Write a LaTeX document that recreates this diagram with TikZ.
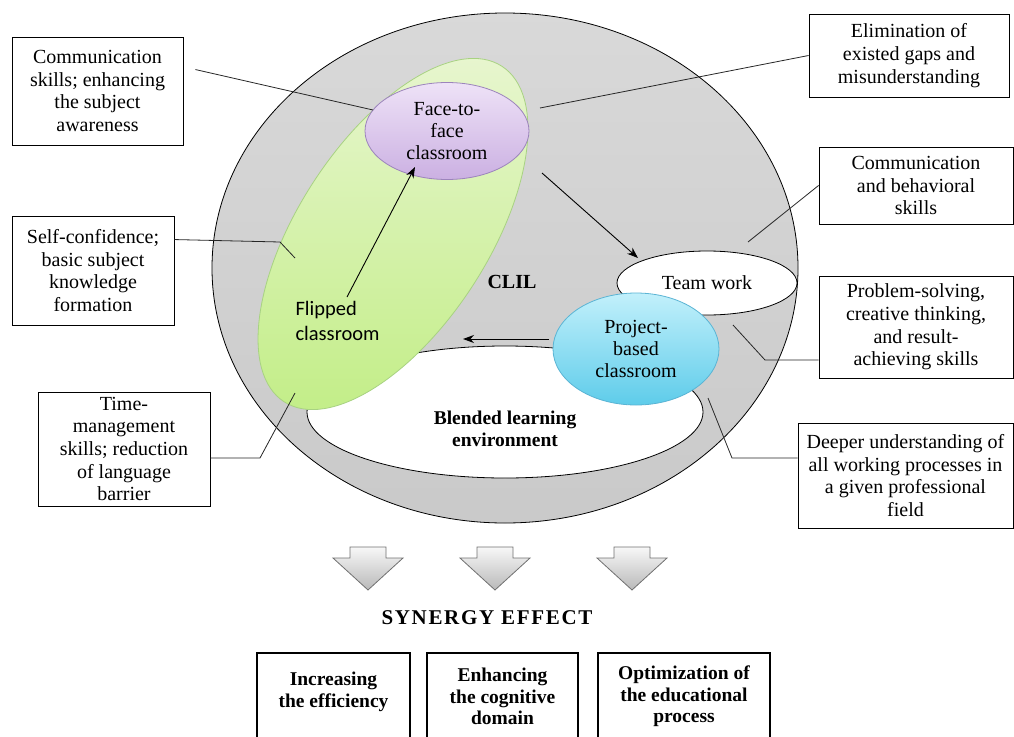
\documentclass[tikz,border=0pt]{standalone}
\usepackage{fontspec}
\setmainfont{Liberation Serif}
\newfontfamily\flipfont{Carlito}
\newfontfamily\synfont[LetterSpace=8]{Liberation Serif}
\usetikzlibrary{shapes.geometric,arrows.meta}

\definecolor{flipline}{HTML}{A8D282}
\definecolor{fliplight}{HTML}{E9F6D2}
\definecolor{flipdark}{HTML}{C4EE8A}
\definecolor{faceline}{HTML}{9C84BC}
\definecolor{facelight}{HTML}{EEE2F7}
\definecolor{facedark}{HTML}{CBB0E2}
\definecolor{projline}{HTML}{5AB4D4}
\definecolor{projlight}{HTML}{C2F0FB}
\definecolor{projdark}{HTML}{5ECCEA}

\begin{document}
\begin{tikzpicture}[x=1pt, y=-1pt,
    note/.style={draw=black, line width=0.9pt, fill=white, align=center, inner sep=2pt,
                 font=\fontsize{20}{22.7}\selectfont},
    result/.style={draw=black, line width=2.2pt, fill=white, align=center,
                   font=\bfseries\fontsize{19.5}{21.5}\selectfont},
    blob/.style={ellipse, inner sep=0pt, line width=0.8pt, align=center,
                 font=\fontsize{20}{22}\selectfont},
    link/.style={line width=0.8pt, black!85},
    flow/.style={line width=0.9pt, -{Stealth[length=11pt,width=8pt]}},
    bigarrow/.style={draw=black!56, line width=0.8pt, top color=gray!6, bottom color=gray!55},
]
    \useasboundingbox (0,0) rectangle (1014,736);
    \clip (0,0) rectangle (1014,736);

    % CLIL ring and blended environment
    \node[blob, draw=black, top color=gray!30, bottom color=gray!42,
          minimum width=586pt, minimum height=510pt] (clil) at (505,268) {};
    \node[blob, draw=black, fill=white, minimum width=396pt, minimum height=132pt] (blend) at (505,412) {};

    % the three classrooms
    \node[blob, draw=flipline, top color=fliplight, bottom color=flipdark,
          minimum width=400pt, minimum height=190pt, rotate=57] (flip) at (393,234) {};
    \node[blob, draw=faceline, top color=facelight, bottom color=facedark,
          minimum width=164pt, minimum height=97pt] (face) at (447,131) {Face-to-\\face\\classroom};
    \node[blob, draw=black, fill=white, minimum width=180pt, minimum height=64pt] (team) at (707,283) {Team work};
    \node[blob, draw=projline, top color=projlight, bottom color=projdark,
          minimum width=166pt, minimum height=112pt] (proj) at (636,349) {Project-\\based\\classroom};

    \node[anchor=west, align=left, font=\flipfont\fontsize{20.5}{25}\selectfont] (fliptxt) at (292,321) {Flipped\\classroom};
    \node[font=\bfseries\fontsize{20}{24}\selectfont] (clillbl) at (512,282) {CLIL};
    \node[align=center, font=\bfseries\fontsize{19.5}{22}\selectfont] (blendlbl) at (505,429) {Blended learning\\environment};

    % flow between classrooms
    \coordinate (fa) at (347,297);
    \coordinate (fb) at (415,167);
    \coordinate (ta) at (542,173);
    \coordinate (tb) at (638,258);
    \coordinate (pa) at (549,339);
    \coordinate (pb) at (463,339);
    \draw[flow] (fa) -- (fb);
    \draw[flow] (ta) -- (tb);
    \draw[flow] (pa) -- (pb);

    % outcome notes
    \node[note, minimum width=171pt, minimum height=108pt] (commbox) at (97.5,91) {Communication\\skills; enhancing\\the subject\\awareness};
    \node[note, minimum width=162pt, minimum height=109pt] (selfbox) at (93,270.5) {Self-confidence;\\basic subject\\knowledge\\formation};
    \node[note, minimum width=172pt, minimum height=114pt] (timebox) at (124,449) {Time-\\management\\skills; reduction\\of language\\barrier};
    \node[note, minimum width=200pt, minimum height=83pt] (elimbox) at (909,55.5) {Elimination of\\existed gaps and\\misunderstanding};
    \node[note, minimum width=194pt, minimum height=77pt] (behbox) at (916,185.5) {Communication\\and behavioral\\skills};
    \node[note, minimum width=194pt, minimum height=102pt] (probbox) at (916,327) {Problem-solving,\\creative thinking,\\and result-\\achieving skills};
    \node[note, minimum width=215pt, minimum height=105pt] (deepbox) at (905.5,475.5) {Deeper understanding of\\all working processes in\\a given professional\\field};

    \coordinate (e1) at (373,110);
    \coordinate (k2) at (280,242);
    \coordinate (e2) at (295,258);
    \coordinate (k3) at (260,458);
    \coordinate (e3) at (295,393);
    \coordinate (e4) at (540,108);
    \coordinate (e5) at (748,242);
    \coordinate (k6) at (765,360);
    \coordinate (e6) at (733,325);
    \coordinate (k7) at (732,458);
    \coordinate (e7) at (708,398);
    \draw[link] ([xshift=12pt,yshift=-33pt]commbox.north east) -- (e1);
    \draw[link] ([yshift=-24pt]selfbox.north east) -- (k2) -- (e2);
    \draw[link] ([yshift=-9pt]timebox.east) -- (k3) -- (e3);
    \draw[link] (elimbox.west) -- (e4);
    \draw[link] (behbox.west) -- (e5);
    \draw[link] ([yshift=-33pt]probbox.west) -- (k6) -- (e6);
    \draw[link] ([yshift=17.5pt]deepbox.west) -- (k7) -- (e7);

    % synergy
    \foreach \ax in {368,495,632}
        \draw[bigarrow] (\ax-18,547) -- (\ax+18,547) -- (\ax+18,558) -- (\ax+35,558)
            -- (\ax,590) -- (\ax-35,558) -- (\ax-18,558) -- cycle;
    \node[font=\synfont\bfseries\fontsize{21}{24}\selectfont] (synergy) at (487,618) {SYNERGY EFFECT};

    \node[result, minimum width=153pt, minimum height=87pt] (effbox) at (333.5,696.5) {Increasing\\the efficiency\\[-8pt]~};
    \node[result, minimum width=151pt, minimum height=87pt] (cogbox) at (502.5,696.5) {Enhancing\\the cognitive\\domain};
    \node[result, minimum width=172pt, minimum height=87pt] (optbox) at (684,696.5) {Optimization of\\the educational\\process};
\end{tikzpicture}
\end{document}
